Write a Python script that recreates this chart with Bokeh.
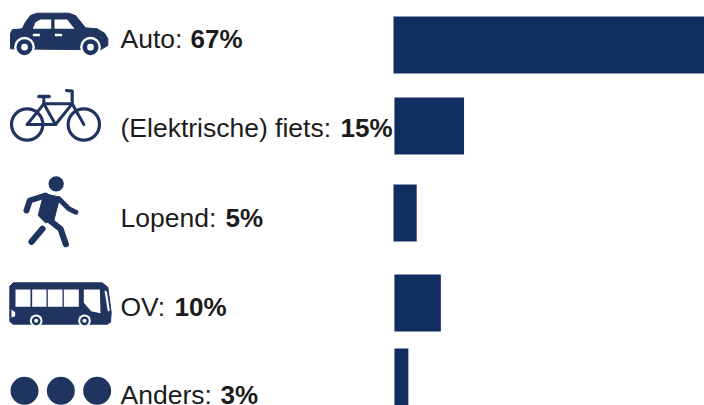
from bokeh.plotting import figure
from bokeh.models import Range1d, ColumnDataSource
from bokeh.core.properties import value
from bokeh.embed import file_html
from bokeh.resources import INLINE

# --- data ---
categories = ["Auto", "(Elektrische) fiets", "Lopend", "OV", "Anders"]
shares = [67, 15, 5, 10, 3]

# --- layout (reference pixels) ---
W, H = 704, 405
row_top = [16, 97, 184, 274, 348]
row_h = 57
bar_nudge = [0, 0.2, 0, 0.2, 0.2]
label_mid = [38, 127, 217, 306, 394]
bold_x = [190, 340, 225, 174, 220]
BAR = "#0f2e5f"
ICON = "#1f3560"
TXT = "#1c1c1c"
FS_REG = "26.5px"
FS_BOLD = "26px"

px_per_pct = 311 / 67
x0 = 393
p = figure(width=W, height=H, output_backend="svg", toolbar_location=None,
           x_range=Range1d(-x0 / px_per_pct, (W - x0) / px_per_pct),
           y_range=Range1d(H, 0), min_border=0, outline_line_color=None,
           background_fill_color="white", border_fill_color="white")
p.axis.visible = False
p.grid.visible = False
p.extra_x_ranges["px"] = Range1d(0, W)
P = dict(x_range_name="px")

# bars
src = ColumnDataSource(dict(
    y=[t + row_h / 2 for t in row_top],
    left=bar_nudge,
    right=[s + n for s, n in zip(shares, bar_nudge)],
))
p.hbar(y="y", left="left", right="right", height=row_h, source=src, color=BAR, line_color=None)

# labels
for c, s, m, bx in zip(categories, shares, label_mid, bold_x):
    p.text([120], [m], text=[f"{c}: "], text_font=value("Liberation Sans"),
           text_font_size=FS_REG, text_color=TXT, text_baseline="middle", **P)
    p.text([bx], [m], text=[f"{s}%"], text_font=value("Liberation Sans"),
           text_font_style="bold", text_font_size=FS_BOLD, text_color=TXT,
           text_baseline="middle", **P)


# icon helpers: coordinates are in 3x-crop units of the reference
def z(pts, oy=0):
    return [q[0] / 3 for q in pts], [oy + q[1] / 3 for q in pts]

def poly(pts, color=ICON, oy=0):
    xs, ys = z(pts, oy)
    if color == "white":
        p.patch(xs, ys, color=color, line_color=None, **P)
    else:
        p.patch(xs, ys, color=color, line_color=color, line_width=1, line_join="round", **P)

def stroke(pts, w, color=ICON, oy=0):
    xs, ys = z(pts, oy)
    p.line(xs, ys, line_color=color, line_width=w, line_cap="round", line_join="round", **P)

def dot(cx, cy, r, color=ICON, oy=0):
    xs, ys = z([(cx, cy)], oy)
    p.scatter(xs, ys, size=2 * r / 3, color=color, line_color=None, **P)

def ring(cx, cy, r, w, oy=0):
    xs, ys = z([(cx, cy)], oy)
    p.scatter(xs, ys, size=2 * r / 3, fill_color=None, line_color=ICON, line_width=w, **P)

# car
poly([(30, 100), (35, 88), (65, 85), (75, 65), (90, 45), (110, 38), (205, 38), (225, 45),
      (255, 82), (290, 85), (312, 98), (322, 115), (322, 135), (300, 148), (30, 145)])
poly([(97, 85), (105, 65), (120, 57), (152, 57), (152, 85)], "white")
poly([(162, 57), (200, 57), (222, 85), (162, 85)], "white")
poly([(97, 100), (118, 100), (118, 107), (97, 107)], "white")
poly([(163, 100), (185, 100), (185, 107), (163, 107)], "white")
for cx in (72, 270):
    dot(cx, 140, 31, "white")
    dot(cx, 140, 24)
    dot(cx, 140, 10, "white")

# bicycle
ring(80, 372, 47, 3.2)
ring(250, 372, 47, 3.2)
stroke([(80, 372), (130, 310), (215, 310), (250, 372)], 3)
stroke([(80, 372), (165, 372), (215, 310)], 3)
stroke([(130, 310), (165, 372)], 3)
stroke([(115, 288), (146, 288)], 3.4)
stroke([(130, 288), (130, 310)], 3)
stroke([(198, 270), (215, 272), (215, 310)], 3.2)

# walker
W_OY = 165
dot(167, 55, 23, oy=W_OY)
poly([(130, 84), (178, 95), (160, 165), (135, 172), (113, 150)], oy=W_OY)
stroke([(78, 135), (88, 105), (135, 90)], 6, oy=W_OY)
stroke([(175, 100), (205, 130), (226, 140)], 5, oy=W_OY)
stroke([(135, 155), (180, 190), (196, 236)], 6.2, oy=W_OY)
stroke([(126, 190), (93, 229)], 6.2, oy=W_OY)

# bus
poly([(38, 352), (305, 352), (322, 365), (332, 440), (330, 470), (320, 476), (38, 476), (28, 468), (28, 362)], oy=W_OY)
for a, b in ((45, 90), (95, 138), (142, 186), (190, 235)):
    poly([(a, 372), (b, 372), (b, 424), (a, 424)], "white", oy=W_OY)
poly([(250, 372), (298, 372), (300, 443), (272, 437), (250, 412)], "white", oy=W_OY)
poly([(312, 375), (319, 378), (328, 435), (322, 438)], "white", oy=W_OY)
poly([(33, 432), (44, 440), (44, 452), (33, 456)], "white", oy=W_OY)
for cx in (107, 252):
    dot(cx, 466, 19, "white", oy=W_OY)
    dot(cx, 466, 13, oy=W_OY)
    dot(cx, 466, 6, "white", oy=W_OY)

# dots
for cx in (72, 181, 290):
    dot(cx, 676, 42, oy=W_OY)

open("out.html", "w").write(file_html(p, INLINE))
